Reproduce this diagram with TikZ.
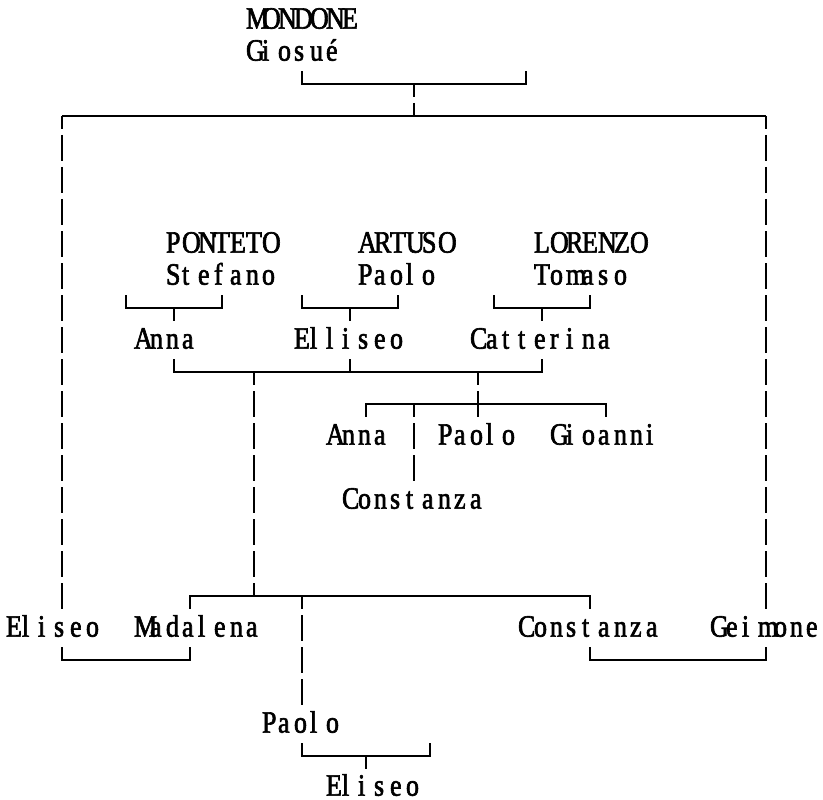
\documentclass[tikz,border=0pt]{standalone}
\usepackage{fontspec}
\newfontfamily\cellfont{Liberation Serif}[FakeStretch=0.84,FakeBold=2]
\ExplSyntaxOn
\NewDocumentCommand\cells{m}{\tl_map_inline:nn{#1}{\makebox[16pt][l]{##1}}}
\ExplSyntaxOff
\tikzset{
  wordnode/.style={anchor=base west, inner sep=0pt, outer sep=0pt,
    font=\cellfont\fontsize{31pt}{32pt}\selectfont},
  link/.style={line width=1.4pt, line join=miter},
  vlinkc/.style={link, dash pattern=on 26pt off 6pt, dash phase=13pt},
}
\begin{document}
\begin{tikzpicture}[x=16pt,y=-32pt]
\useasboundingbox (-0.875,-0.625) rectangle (50.5625,24.375);
% ---- names ----
\node[wordnode] (mondone)   at (14.5,0.27)  {\cells{MONDONE}};
\node[wordnode] (giosue)    at (14.5,1.27)  {\cells{Giosué}};
\node[wordnode] (ponteto)   at (9.5,7.27)   {\cells{PONTETO}};
\node[wordnode] (stefano)   at (9.5,8.27)   {\cells{Stefano}};
\node[wordnode] (artuso)    at (21.5,7.27)  {\cells{ARTUSO}};
\node[wordnode] (paoloA)    at (21.5,8.27)  {\cells{Paolo}};
\node[wordnode] (lorenzo)   at (32.5,7.27)  {\cells{LORENZO}};
\node[wordnode] (tomaso)    at (32.5,8.27)  {\cells{Tomaso}};
\node[wordnode] (anna)      at (7.5,10.27)  {\cells{Anna}};
\node[wordnode] (elliseo)   at (17.5,10.27) {\cells{Elliseo}};
\node[wordnode] (catterina) at (28.5,10.27) {\cells{Catterina}};
\node[wordnode] (annaB)     at (19.5,13.27) {\cells{Anna}};
\node[wordnode] (paoloB)    at (26.5,13.27) {\cells{Paolo}};
\node[wordnode] (gioanni)   at (33.5,13.27) {\cells{Gioanni}};
\node[wordnode] (constB)    at (20.5,15.27) {\cells{Constanza}};
\node[wordnode] (eliseoL)   at (-0.5,19.27) {\cells{Eliseo}};
\node[wordnode] (madalena)  at (7.5,19.27)  {\cells{Madalena}};
\node[wordnode] (constanza) at (31.5,19.27) {\cells{Constanza}};
\node[wordnode] (geimone)   at (43.5,19.27) {\cells{Geimone}};
\node[wordnode] (paoloC)    at (15.5,22.27) {\cells{Paolo}};
\node[wordnode] (eliseoC)   at (19.5,24.24) {\cells{Eliseo}};
% ---- junction points ----
\coordinate (gL) at (18,1.594); \coordinate (gLc) at (18,2);
\coordinate (gR) at (32,1.594); \coordinate (gRc) at (32,2);
\coordinate (gM) at (25,2);     \coordinate (tM) at (25,3);
\coordinate (tL) at (3,3);      \coordinate (tR) at (47,3);
\coordinate (lEnd) at (3,18.406); \coordinate (rEnd) at (47,18.406);
\coordinate (aL) at (7,8.594);  \coordinate (aLc) at (7,9);
\coordinate (aR) at (13,8.594); \coordinate (aRc) at (13,9);
\coordinate (aM) at (10,9);     \coordinate (aMd) at (10,9.406);
\coordinate (eL) at (18,8.594); \coordinate (eLc) at (18,9);
\coordinate (eR) at (24,8.594); \coordinate (eRc) at (24,9);
\coordinate (eM) at (21,9);     \coordinate (eMd) at (21,9.406);
\coordinate (cL) at (30,8.594); \coordinate (cLc) at (30,9);
\coordinate (cR) at (36,8.594); \coordinate (cRc) at (36,9);
\coordinate (cM) at (33,9);     \coordinate (cMd) at (33,9.406);
\coordinate (mL) at (10,10.594); \coordinate (mLc) at (10,11);
\coordinate (mR) at (33,10.594); \coordinate (mRc) at (33,11);
\coordinate (mU) at (21,10.594); \coordinate (mUc) at (21,11);
\coordinate (mA) at (15,11);     \coordinate (mB) at (29,11);
\coordinate (kL) at (22,12.406); \coordinate (kLc) at (22,12);
\coordinate (kR) at (37,12.406); \coordinate (kRc) at (37,12);
\coordinate (kM) at (25,12);     \coordinate (kMd) at (25,14.406);
\coordinate (kX) at (29,12.406);
\coordinate (sL) at (11,18.406); \coordinate (sLc) at (11,18);
\coordinate (sR) at (36,18.406); \coordinate (sRc) at (36,18);
\coordinate (sA) at (15,18);     \coordinate (sB) at (18,18);
\coordinate (sBd) at (18,21.406);
\coordinate (wL) at (3,19.594);  \coordinate (wLc) at (3,20);
\coordinate (wR) at (11,19.594); \coordinate (wRc) at (11,20);
\coordinate (zL) at (36,19.594); \coordinate (zLc) at (36,20);
\coordinate (zR) at (47,19.594); \coordinate (zRc) at (47,20);
\coordinate (pL) at (18,22.594); \coordinate (pLc) at (18,23);
\coordinate (pR) at (26,22.594); \coordinate (pRc) at (26,23);
\coordinate (pM) at (22,23);     \coordinate (pMd) at (22,23.406);
% ---- connectors ----
\draw[link] (gL) -- (gLc) -- (gRc) -- (gR);
\draw[vlinkc] (gM) -- (tM);
\draw[link] (tL) -- (tR);
\draw[vlinkc] (tL) -- (lEnd);
\draw[vlinkc] (tR) -- (rEnd);
\draw[link] (aL) -- (aLc) -- (aRc) -- (aR);
\draw[link] (aM) -- (aMd);
\draw[link] (eL) -- (eLc) -- (eRc) -- (eR);
\draw[link] (eM) -- (eMd);
\draw[link] (cL) -- (cLc) -- (cRc) -- (cR);
\draw[link] (cM) -- (cMd);
\draw[link] (mL) -- (mLc) -- (mRc) -- (mR);
\draw[link] (mU) -- (mUc);
\draw[vlinkc] (mA) -- (sA);
\draw[vlinkc] (mB) -- (kX);
\draw[link] (kL) -- (kLc) -- (kRc) -- (kR);
\draw[vlinkc] (kM) -- (kMd);
\draw[link] (sL) -- (sLc) -- (sRc) -- (sR);
\draw[vlinkc] (sB) -- (sBd);
\draw[link] (wL) -- (wLc) -- (wRc) -- (wR);
\draw[link] (zL) -- (zLc) -- (zRc) -- (zR);
\draw[link] (pL) -- (pLc) -- (pRc) -- (pR);
\draw[link] (pM) -- (pMd);
\end{tikzpicture}
\end{document}
